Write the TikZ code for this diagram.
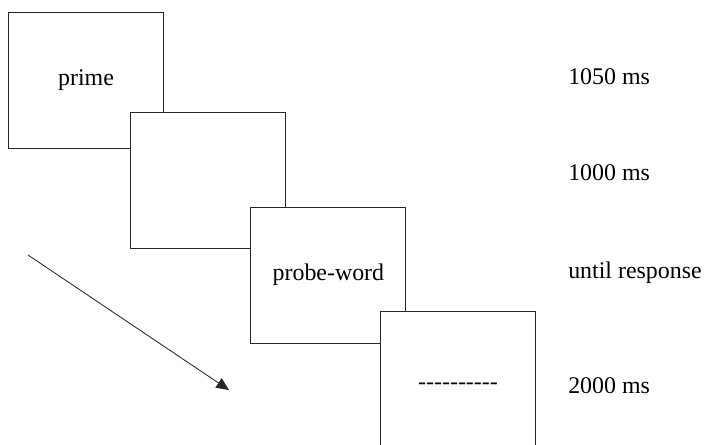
\documentclass[tikz,border=0pt]{standalone}
\usepackage{fontspec}
\setmainfont{Liberation Serif}
\usetikzlibrary{arrows.meta}
% row of single hyphens, kerned apart so no dash ligature forms
\newcommand\maskrow{\foreach \i in {1,...,10}{-\kern0pt}}

\begin{document}
\begin{tikzpicture}[
  screen/.style={draw=black!85, line width=0.7pt, fill=white,
    minimum width=3.875cm, minimum height=3.4cm, inner sep=0pt,
    font=\fontsize{17}{20}\selectfont},
  timing/.style={anchor=west, inner sep=0pt, font=\fontsize{17}{20}\selectfont}]
\useasboundingbox (0,0) rectangle (17.6,-11.1);
\clip (0,0) rectangle (17.6,-11.1);

% screens, each one laid over the previous
\node[screen] (prime) at (2.15,-2.0) {prime};
\node[screen] (blank) at (5.19,-4.51) {};
\node[screen] (probe) at (8.21,-6.875) {probe-word};
\node[screen] (mask) at (11.45,-9.475) {};
\node[font=\fontsize{17}{20}\selectfont] (dashes) at ([yshift=-0.18cm]mask.center) {\maskrow};

% durations
\foreach \t/\y [count=\k] in {1050 ms/-1.925, 1000 ms/-4.325, until response/-6.825, 2000 ms/-9.65}
  \node[timing] (time\k) at (14.2,\y) {\t};

% time axis
\coordinate (start) at (0.7,-6.375);
\coordinate (stop) at (5.725,-9.75);
\draw[-{Triangle[length=9pt,width=8pt]}, line width=0.6pt, black!85] (start) -- (stop);
\end{tikzpicture}
\end{document}
